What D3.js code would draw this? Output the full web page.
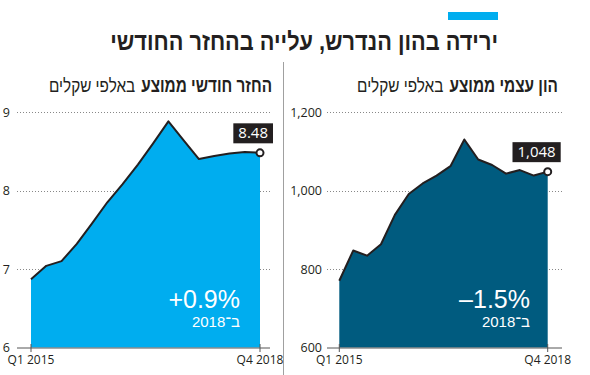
<!DOCTYPE html>
<html><head><meta charset="utf-8">
<script src="https://cdn.jsdelivr.net/npm/d3@7"></script>
<style>
html,body{margin:0;padding:0;background:#fff;}
svg{display:block;font-family:"Open Sans","Liberation Sans",sans-serif;}
.heb{font-family:"Liberation Sans",sans-serif;}
</style></head>
<body>
<svg id="chart" width="590" height="375"></svg>
<script>
const quarters = ["Q1 2015","Q2 2015","Q3 2015","Q4 2015","Q1 2016","Q2 2016","Q3 2016","Q4 2016",
                  "Q1 2017","Q2 2017","Q3 2017","Q4 2017","Q1 2018","Q2 2018","Q3 2018","Q4 2018"];
const payment = [6.87,7.04,7.10,7.32,7.58,7.85,8.08,8.33,8.60,8.88,8.64,8.40,8.44,8.47,8.49,8.48];
const equity = [770,847,834,863,938,991,1018,1038,1062,1130,1079,1065,1043,1052,1038,1048];
const paymentTicks = [6,7,8,9];
const equityTicks = [600,800,1000,1200];
const xTickLabels = ["Q1 2015","Q4 2018"];
const titleText = "ירידה בהון הנדרש, עלייה בהחזר החודשי";
const panels = [
  {bold:"החזר חודשי ממוצע", reg:"באלפי שקלים", values:payment, ticks:paymentTicks, fmt:d3.format("d"),
   last:"8.48", change:"+0.9%", note:"ב־2018", color:"#00adef",
   x0:31, x1:260, gx0:17, gx1:270, tickX:10, subX:272, subW:223, noteX:240, domain:[6,9]},
  {bold:"הון עצמי ממוצע", reg:"באלפי שקלים", values:equity, ticks:equityTicks, fmt:d3.format(","),
   last:"1,048", change:"–1.5%", note:"ב־2018", color:"#005b7f",
   x0:339.3, x1:547.7, gx0:327, gx1:562, tickX:322, subX:558, subW:201, noteX:530, domain:[600,1200]}
];

const svg = d3.select("#chart");
svg.append("rect").attr("x",448).attr("y",12).attr("width",50).attr("height",8).attr("fill","#00adef");
// title, horizontally condensed via transform
const tg = svg.append("g");
const tt = tg.append("text").attr("class","heb").attr("x",0).attr("y",0).attr("direction","rtl").attr("text-anchor","start")
  .attr("font-size",25).attr("font-weight","bold").attr("fill","#231f20").text(titleText);
const tw = tt.node().getComputedTextLength();
tg.attr("transform",`translate(498,50) scale(${388/tw},1)`);
svg.append("line").attr("x1",283.5).attr("x2",283.5).attr("y1",62).attr("y2",375)
  .attr("stroke","#a0a0a0").attr("stroke-width",1);

panels.forEach(p => {
  const g = svg.append("g");
  const x = d3.scaleLinear().domain([0, quarters.length-1]).range([p.x0, p.x1]);
  const y = d3.scaleLinear().domain(p.domain).range([347.5, 112]);
  // subtitle: bold part + regular part, condensed via transform
  const gb = g.append("g"), gr = g.append("g");
  const tb = gb.append("text").attr("class","heb").attr("x",0).attr("y",0).attr("direction","rtl").attr("text-anchor","start")
    .attr("font-size",19).attr("font-weight","bold").attr("fill","#231f20").text(p.bold);
  const tr = gr.append("text").attr("class","heb").attr("x",0).attr("y",0).attr("direction","rtl").attr("text-anchor","start")
    .attr("font-size",19).attr("fill","#231f20").text(p.reg);
  const wb = tb.node().getComputedTextLength(), wr = tr.node().getComputedTextLength();
  const gap = 6, s = (p.subW - gap) / (wb + wr);
  gb.attr("transform",`translate(${p.subX},92) scale(${s},1)`);
  gr.attr("transform",`translate(${p.subX - wb*s - gap},92) scale(${s},1)`);
  // grid
  p.ticks.slice(1).forEach(t => {
    g.append("line").attr("x1",p.gx0).attr("x2",p.gx1).attr("y1",Math.round(y(t))+0.5).attr("y2",Math.round(y(t))+0.5)
      .attr("stroke","#888").attr("stroke-width",1).attr("stroke-dasharray","1,2");
  });
  p.ticks.forEach(t => {
    g.append("text").attr("x",p.tickX).attr("y",y(t)+4.5).attr("text-anchor","end")
      .attr("font-size",12.5).attr("fill","#231f20").text(p.fmt(t));
  });
  // area
  const area = d3.area().x((d,i)=>x(i)).y0(y(p.domain[0])).y1(d=>y(d));
  g.append("path").datum(p.values).attr("d",area).attr("fill",p.color);
  const line = d3.line().x((d,i)=>x(i)).y(d=>y(d));
  g.append("path").datum(p.values).attr("d",line).attr("fill","none").attr("stroke","#231f20")
    .attr("stroke-width",2).attr("stroke-linejoin","round");
  // baseline axis
  g.append("line").attr("x1",p.gx0).attr("x2",p.gx1).attr("y1",348).attr("y2",348)
    .attr("stroke","#555").attr("stroke-width",1);
  [0, quarters.length-1].forEach((qi,k) => {
    g.append("line").attr("x1",x(qi)).attr("x2",x(qi)).attr("y1",344).attr("y2",352)
      .attr("stroke","#555").attr("stroke-width",1);
    g.append("text").attr("x",x(qi)).attr("y",364).attr("text-anchor","middle")
      .attr("font-size",12).attr("fill","#231f20").text(xTickLabels[k]);
  });
  // end point
  const li = p.values.length-1;
  const px = x(li), py = y(p.values[li]);
  const lbl = g.append("text").attr("y",py-14.5).attr("font-size",15).attr("fill","#fff")
    .attr("text-anchor","end").attr("x",px+8).text(p.last);
  const bb = lbl.node().getBBox();
  g.insert("rect", function(){return lbl.node();}).attr("x",bb.x-5).attr("y",py-29.5)
    .attr("width",bb.width+10).attr("height",20).attr("fill","#231f20");
  g.append("circle").attr("cx",px).attr("cy",py).attr("r",3.5).attr("fill","#fff")
    .attr("stroke","#231f20").attr("stroke-width",2);
  // annotations
  g.append("text").attr("class","heb").attr("x",p.noteX).attr("y",308).attr("text-anchor","end").attr("direction","ltr")
    .attr("font-size",25).attr("fill","#fff").text(p.change);
  g.append("text").attr("class","heb").attr("x",p.noteX).attr("y",327).attr("direction","rtl").attr("text-anchor","start")
    .attr("font-size",15).attr("fill","#fff").text(p.note);
});
</script>
</body></html>
